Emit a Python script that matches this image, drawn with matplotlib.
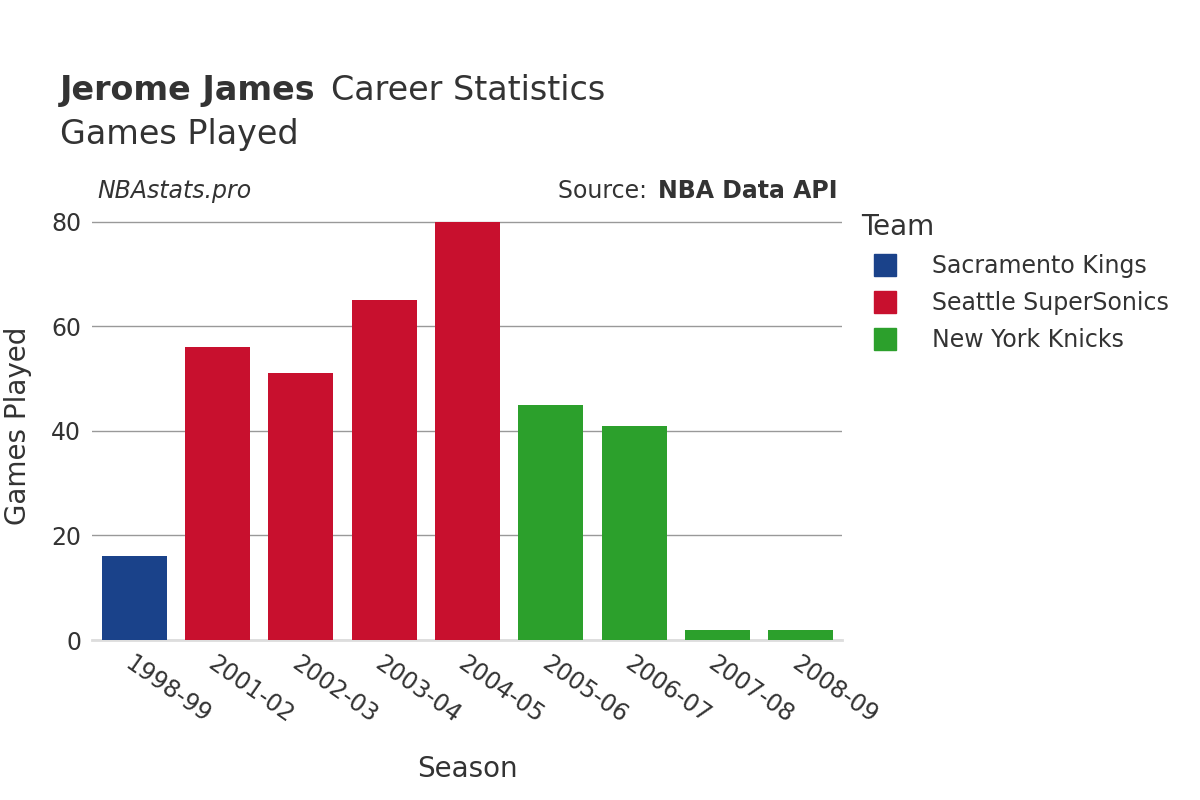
import matplotlib.pyplot as plt
from matplotlib.lines import Line2D

seasons = ["1998-99", "2001-02", "2002-03", "2003-04", "2004-05", "2005-06", "2006-07", "2007-08", "2008-09"]
games = [16, 56, 51, 65, 80, 45, 41, 2, 2]
teams = ["Sacramento Kings", "Seattle SuperSonics", "Seattle SuperSonics", "Seattle SuperSonics",
         "Seattle SuperSonics", "New York Knicks", "New York Knicks", "New York Knicks", "New York Knicks"]
team_names = ["Sacramento Kings", "Seattle SuperSonics", "New York Knicks"]
team_colors = {"Sacramento Kings": "#1a428a", "Seattle SuperSonics": "#c8102e", "New York Knicks": "#2ca02c"}

plt.rcParams["font.family"] = "DejaVu Sans"
fig = plt.figure(figsize=(12, 8), dpi=100)
ax = fig.add_axes([0.077, 0.2, 0.625, 0.536])

x = range(len(seasons))
ax.bar(x, games, width=0.78, color=[team_colors[t] for t in teams], zorder=3)

ax.set_xlim(-0.5, len(seasons) - 0.5)
ax.set_ylim(0, 82)
ax.set_yticks([0, 20, 40, 60, 80])
ax.grid(axis="y", color="#999999", linewidth=1, zorder=0)
for s in ["top", "right", "left"]:
    ax.spines[s].set_visible(False)
ax.spines["bottom"].set_color("#dddddd")
ax.spines["bottom"].set_linewidth(2)
ax.tick_params(axis="both", length=0, labelsize=17, colors="#333333", pad=8)
ax.set_xticks(list(x))
ax.set_xticklabels(seasons, rotation=-35, ha="left", rotation_mode="anchor")
ax.set_xlabel("Season", fontsize=20, color="#333333", labelpad=20)
ax.set_ylabel("Games Played", fontsize=20, color="#333333", labelpad=14)

fig.text(0.05, 0.875, "Jerome James", fontsize=24, fontweight="bold", color="#333333")
fig.text(0.276, 0.875, "Career Statistics", fontsize=24, color="#333333")
fig.text(0.05, 0.82, "Games Played", fontsize=24, color="#333333")
fig.text(0.081, 0.752, "NBAstats.pro", fontsize=17, style="italic", color="#333333")
fig.text(0.545, 0.752, "Source: ", fontsize=17, color="#333333", ha="right")
fig.text(0.698, 0.752, "NBA Data API", fontsize=17, fontweight="bold", color="#333333", ha="right")

handles = [Line2D([0], [0], marker="s", linestyle="", markersize=16, color=team_colors[t]) for t in team_names]
leg = fig.legend(handles, team_names, loc="upper left", bbox_to_anchor=(0.7, 0.76), frameon=False,
                 fontsize=17, title="Team", title_fontsize=20, labelspacing=0.55, handletextpad=1.0)
leg._legend_box.align = "left"
for t in leg.get_texts():
    t.set_color("#333333")
leg.get_title().set_color("#333333")

fig.savefig("out.png")
